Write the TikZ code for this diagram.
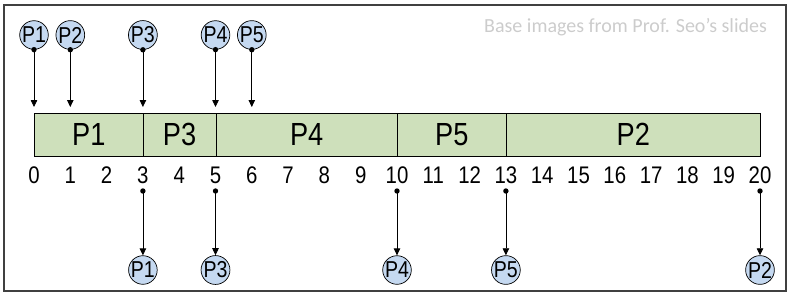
\documentclass[tikz,border=0pt]{standalone}
\usepackage{fontspec}
\setmainfont{Liberation Sans}
\newfontfamily\narrowfont[FakeStretch=0.85]{Liberation Sans}
\newfontfamily\wmfont{Carlito}
\usetikzlibrary{arrows.meta}
\definecolor{barfill}{RGB}{206,224,187}
\definecolor{circfill}{RGB}{197,217,241}
\begin{document}
\begin{tikzpicture}[x=1pt,y=-1pt,
  proc/.style={circle, draw, line width=0.7pt, fill=circfill, inner sep=0pt, minimum size=27pt, font=\narrowfont\fontsize{23}{23}\selectfont},
  seg/.style={draw, line width=0.8pt, fill=barfill, minimum height=43pt, inner sep=0pt, anchor=west, font=\narrowfont\fontsize{32}{32}\selectfont},
  tick/.style={font=\narrowfont\fontsize{24}{24}\selectfont, inner sep=0pt, anchor=base},
  arr/.style={-{Triangle[width=6.5pt,length=7pt]}, line width=0.8pt}
]
\useasboundingbox (0,0) rectangle (793,295);
\draw[line width=1.3pt, black!75] (4,5) rectangle (786,291);
\node[font=\wmfont\fontsize{20}{20}\selectfont, text=black!20, anchor=west, inner sep=0pt] (wm) at (484,27) {Base images from Prof. Seo’s slides};

% bar
\node[seg, minimum width=108.9pt] (s1) at (34,134.5) {P1};
\node[seg, minimum width=72.6pt] (s3) at (142.9,134.5) {P3};
\node[seg, minimum width=181.5pt] (s4) at (215.5,134.5) {P4};
\node[seg, minimum width=108.9pt] (s5) at (397,134.5) {P5};
\node[seg, minimum width=254.1pt] (s2) at (505.9,134.5) {P2};

% ticks
\foreach \t in {0,...,20} {
  \node[tick] (t\t) at ({34+36.3*\t},183) {\t};
}

% arrivals
\foreach \n/\t in {1/0,2/1,3/3,4/5,5/6} {
  \node[proc] (a\n) at ({34+36.3*\t},35) {P\n};
  \coordinate (ea\n) at ({34+36.3*\t},107);
  \draw[arr] (a\n.south) -- (ea\n);
  \fill (a\n.south) circle[radius=2.7pt];
}

% completions
\foreach \n/\t in {1/3,3/5,4/10,5/13,2/20} {
  \node[proc] (c\n) at ({34+36.3*\t},270) {P\n};
  \coordinate (sc\n) at ({34+36.3*\t},191);
  \draw[arr] (sc\n) -- (c\n.north);
  \fill (sc\n) circle[radius=2.7pt];
}
\end{tikzpicture}
\end{document}
